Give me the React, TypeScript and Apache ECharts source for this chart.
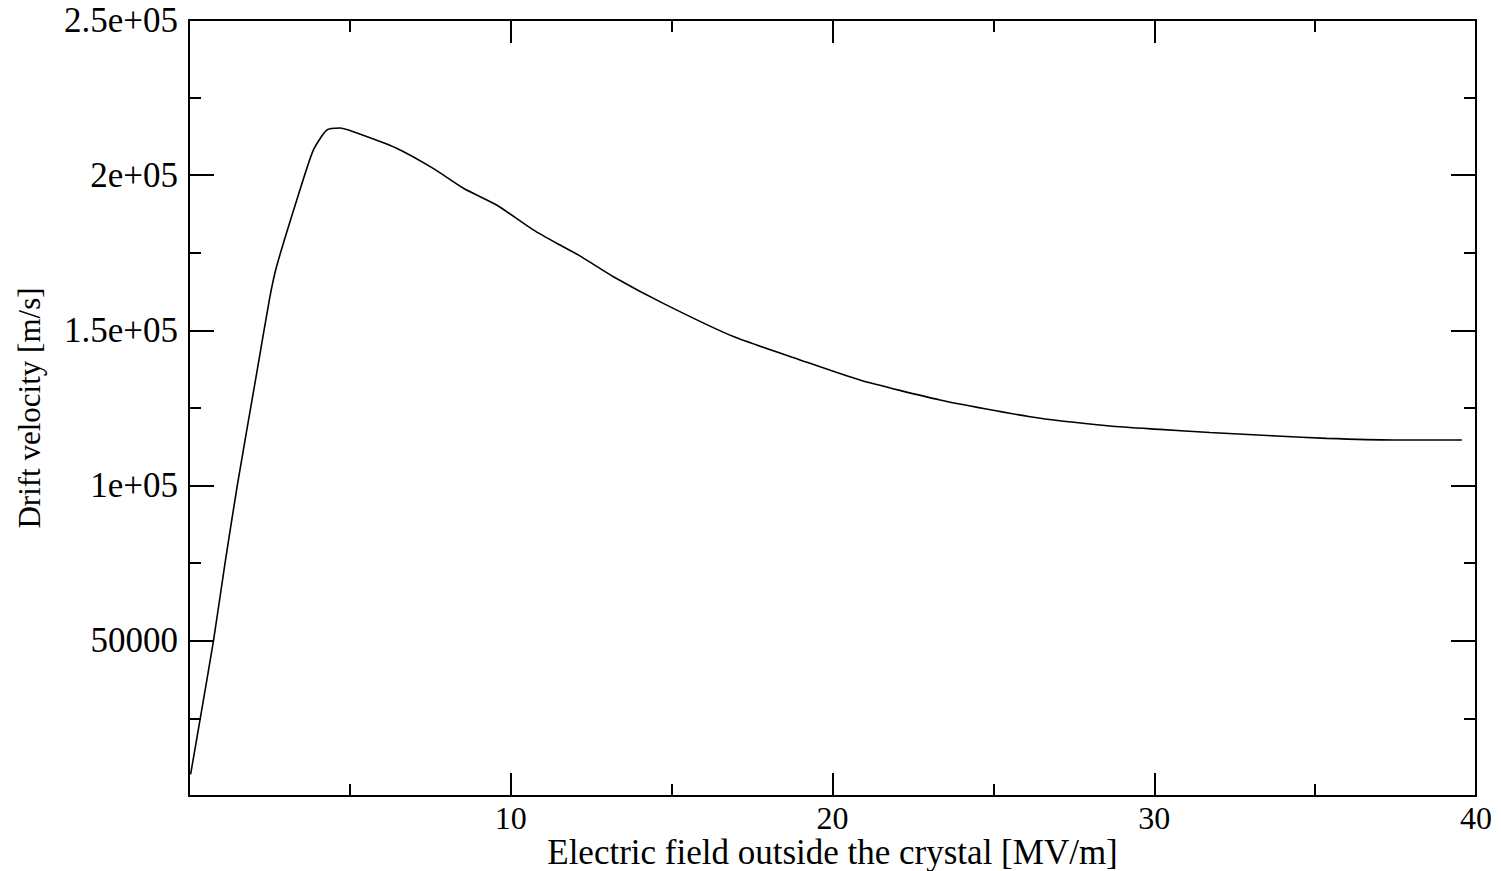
import React, { useEffect, useRef } from "react";
import * as echarts from "echarts";

const fieldMVm = [
  0.05, 0.35, 0.76, 1.12, 1.5, 2.1, 2.5, 2.72, 3.35, 3.86, 4.28, 4.69, 5.11, 6.45, 7.59, 8.53,
  9.56, 10.7, 11.53, 12.15, 13.19, 14.74, 16.92, 18.99, 20.85, 23.34, 26.14, 28.62, 30.18,
  31.73, 33.8, 35.36, 37.43, 39.56,
];
const driftVelocity = [
  7000, 25000, 50000, 75000, 100000, 136000, 160000, 170500, 192000, 208000, 214500, 215200,
  214000, 208700, 202200, 195800, 190400, 182400, 177500, 174000, 167300, 158700, 148000,
  140500, 134000, 127600, 122200, 119200, 118100, 117100, 116000, 115200, 114700, 114700,
];
const yTickLabels: Record<number, string> = {
  50000: "50000",
  100000: "1e+05",
  150000: "1.5e+05",
  200000: "2e+05",
  250000: "2.5e+05",
};
const xTitle = "Electric field outside the crystal [MV/m]";
const yTitle = "Drift velocity [m/s]";

const FONT = "'Liberation Serif', 'Times New Roman', serif";
const AXIS_COLOR = "#000";

export default function App() {
  const ref = useRef<HTMLDivElement>(null);
  useEffect(() => {
    document.body.style.margin = "0";
    const chart = echarts.init(ref.current!, null, { renderer: "svg" });
    const data = fieldMVm.map((x, i) => [x, driftVelocity[i]]);
    const tickStyle = { color: AXIS_COLOR, width: 2 };
    const common = {
      axisLine: { show: true, onZero: false, lineStyle: { color: AXIS_COLOR, width: 2 } },
      splitLine: { show: false },
    };
    chart.setOption({
      animation: false,
      backgroundColor: "#fff",
      grid: {
        left: 189,
        right: 25,
        top: 20,
        bottom: 75,
        containLabel: false,
        outerBoundsMode: "none",
      },
      xAxis: [
        {
          ...common,
          type: "value",
          position: "bottom",
          min: 0,
          max: 40,
          interval: 10,
          axisTick: { show: true, inside: true, length: 23, lineStyle: tickStyle },
          minorTick: { show: true, splitNumber: 2, length: 12, lineStyle: tickStyle },
          axisLabel: {
            show: true,
            margin: 6,
            color: "#000",
            fontFamily: FONT,
            fontSize: 32,
            formatter: (v: number) => (v === 0 ? "" : String(v)),
          },
          name: xTitle,
          nameLocation: "middle",
          nameGap: 41,
          nameMoveOverlap: false,
          nameTextStyle: { color: "#000", fontFamily: FONT, fontSize: 35, lineHeight: 30 },
        },
        {
          ...common,
          type: "value",
          position: "top",
          min: 0,
          max: 40,
          interval: 10,
          axisTick: { show: true, inside: true, length: 23, lineStyle: tickStyle },
          minorTick: { show: true, splitNumber: 2, length: 12, lineStyle: tickStyle },
          axisLabel: { show: false },
        },
      ],
      yAxis: [
        {
          ...common,
          type: "value",
          position: "left",
          min: 0,
          max: 250000,
          interval: 50000,
          axisTick: { show: true, inside: true, length: 25, lineStyle: tickStyle },
          minorTick: { show: true, splitNumber: 2, length: 12, lineStyle: tickStyle },
          axisLabel: {
            show: true,
            margin: 11,
            color: "#000",
            fontFamily: FONT,
            fontSize: 35,
            formatter: (v: number) => yTickLabels[v] ?? "",
          },
          name: yTitle,
          nameLocation: "middle",
          nameGap: 144,
          nameRotate: 90,
          nameMoveOverlap: false,
          nameTextStyle: { color: "#000", fontFamily: FONT, fontSize: 31 },
        },
        {
          ...common,
          type: "value",
          position: "right",
          min: 0,
          max: 250000,
          interval: 50000,
          axisTick: { show: true, inside: true, length: 25, lineStyle: tickStyle },
          minorTick: { show: true, splitNumber: 2, length: 12, lineStyle: tickStyle },
          axisLabel: { show: false },
        },
      ],
      series: [
        {
          type: "line",
          xAxisIndex: 0,
          yAxisIndex: 0,
          data,
          showSymbol: false,
          smooth: 0.2,
          lineStyle: { color: "#000", width: 1.6 },
        },
      ],
    });
    return () => chart.dispose();
  }, []);
  return <div ref={ref} style={{ width: 1501, height: 871 }} />;
}
